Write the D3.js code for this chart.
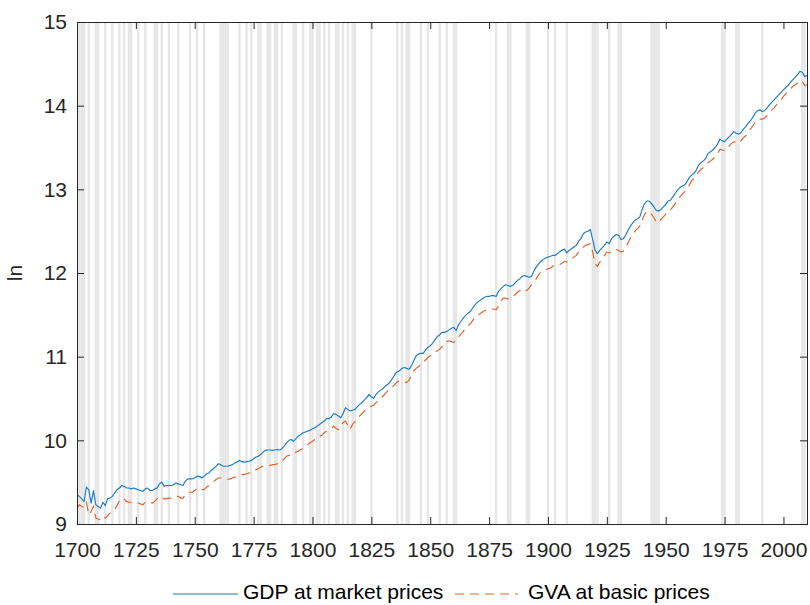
<!DOCTYPE html>
<html>
<head>
<meta charset="utf-8">
<script src="https://cdn.jsdelivr.net/npm/d3@7"></script>
<style>
  html, body { margin: 0; padding: 0; background: #fff; }
  svg { display: block; font-family: "Liberation Sans", Arial, Helvetica, sans-serif; }
  .axis text { font-size: 21px; fill: #262626; }
  .axis path, .axis line { stroke: #262626; stroke-width: 1; }
  .legend text { font-size: 21px; fill: #000; }
</style>
</head>
<body>
<div id="chart"></div>
<script>
/* UK output, 1700-2010, in logs, with recession years shaded. */

// ---- data --------------------------------------------------------------
const years = d3.range(1700, 2011);

const gdp = [
  9.35, 9.33, 9.30, 9.27, 9.44, 9.41, 9.25, 9.40, 9.23, 9.21,   // 1700
  9.19, 9.26, 9.22, 9.30, 9.31, 9.33, 9.37, 9.41, 9.43, 9.46,   // 1710
  9.45, 9.43, 9.43, 9.42, 9.43, 9.42, 9.41, 9.40, 9.39, 9.42,   // 1720
  9.43, 9.40, 9.40, 9.42, 9.43, 9.48, 9.50, 9.45, 9.46, 9.46,   // 1730
  9.46, 9.47, 9.49, 9.48, 9.47, 9.46, 9.51, 9.54, 9.54, 9.54,   // 1740
  9.55, 9.57, 9.57, 9.55, 9.57, 9.60, 9.61, 9.64, 9.66, 9.69,   // 1750
  9.72, 9.71, 9.69, 9.69, 9.69, 9.70, 9.71, 9.73, 9.74, 9.76,   // 1760
  9.745, 9.74, 9.745, 9.75, 9.76, 9.78, 9.80, 9.81, 9.83, 9.86, // 1770
  9.88, 9.885, 9.885, 9.88, 9.885, 9.89, 9.885, 9.90, 9.93, 9.97, // 1780
  10.00, 10.01, 9.99, 10.02, 10.05, 10.07, 10.09, 10.10, 10.11, 10.12, // 1790
  10.14, 10.15, 10.17, 10.19, 10.21, 10.23, 10.26, 10.26, 10.28, 10.32, // 1800
  10.31, 10.29, 10.27, 10.32, 10.39, 10.37, 10.35, 10.36, 10.37, 10.40, // 1810
  10.43, 10.45, 10.48, 10.51, 10.55, 10.52, 10.50, 10.55, 10.58, 10.60, // 1820
  10.62, 10.65, 10.67, 10.70, 10.74, 10.79, 10.82, 10.83, 10.86, 10.87, // 1830
  10.86, 10.85, 10.89, 10.95, 11.01, 11.03, 11.04, 11.04, 11.08, 11.11, // 1840
  11.13, 11.16, 11.20, 11.24, 11.26, 11.29, 11.29, 11.30, 11.32, 11.34, // 1850
  11.35, 11.31, 11.38, 11.42, 11.46, 11.49, 11.52, 11.54, 11.58, 11.62, // 1860
  11.65, 11.67, 11.69, 11.71, 11.72, 11.72, 11.73, 11.73, 11.72, 11.78, // 1870
  11.81, 11.84, 11.86, 11.85, 11.84, 11.85, 11.88, 11.91, 11.93, 11.96, // 1880
  11.97, 11.96, 11.95, 11.96, 12.02, 12.07, 12.11, 12.14, 12.16, 12.18, // 1890
  12.19, 12.20, 12.21, 12.21, 12.23, 12.255, 12.275, 12.285, 12.24, 12.27, // 1900
  12.29, 12.31, 12.33, 12.38, 12.41, 12.47, 12.49, 12.50, 12.52, 12.40, // 1910
  12.27, 12.23, 12.27, 12.30, 12.33, 12.37, 12.35, 12.41, 12.44, 12.46, // 1920
  12.45, 12.40, 12.41, 12.45, 12.51, 12.56, 12.60, 12.63, 12.65, 12.67, // 1930
  12.76, 12.83, 12.86, 12.86, 12.83, 12.79, 12.75, 12.74, 12.76, 12.79, // 1940
  12.82, 12.86, 12.87, 12.91, 12.95, 12.99, 13.02, 13.04, 13.05, 13.09, // 1950
  13.14, 13.17, 13.19, 13.23, 13.29, 13.32, 13.34, 13.37, 13.43, 13.45, // 1960
  13.47, 13.50, 13.54, 13.60, 13.58, 13.57, 13.60, 13.63, 13.66, 13.69, // 1970
  13.67, 13.66, 13.68, 13.72, 13.75, 13.79, 13.82, 13.86, 13.91, 13.94, // 1980
  13.95, 13.93, 13.94, 13.97, 14.01, 14.04, 14.07, 14.10, 14.13, 14.16, // 1990
  14.19, 14.22, 14.24, 14.28, 14.31, 14.34, 14.37, 14.41, 14.40, 14.35, // 2000
  14.36                                                                  // 2010
];

const gva = [
  9.19, 9.23, 9.21, 9.20, 9.26, 9.11, 9.15, 9.21, 9.07, 9.06,   // 1700
  9.05, 9.09, 9.07, 9.10, 9.13, 9.15, 9.18, 9.22, 9.28, 9.31,   // 1710
  9.30, 9.27, 9.26, 9.26, 9.26, 9.25, 9.25, 9.24, 9.23, 9.26,   // 1720
  9.27, 9.26, 9.25, 9.27, 9.30, 9.33, 9.32, 9.30, 9.30, 9.31,   // 1730
  9.31, 9.32, 9.33, 9.33, 9.31, 9.31, 9.35, 9.38, 9.38, 9.38,   // 1740
  9.40, 9.43, 9.42, 9.41, 9.41, 9.44, 9.46, 9.48, 9.51, 9.53,   // 1750
  9.55, 9.55, 9.545, 9.54, 9.535, 9.54, 9.55, 9.56, 9.57, 9.58, // 1760
  9.59, 9.59, 9.60, 9.61, 9.61, 9.63, 9.65, 9.66, 9.68, 9.69,   // 1770
  9.70, 9.70, 9.70, 9.71, 9.71, 9.72, 9.73, 9.75, 9.78, 9.81,   // 1780
  9.82, 9.82, 9.84, 9.86, 9.87, 9.89, 9.90, 9.92, 9.95, 9.97,   // 1790
  9.99, 10.01, 10.03, 10.05, 10.06, 10.09, 10.11, 10.13, 10.14, 10.17, // 1800
  10.14, 10.13, 10.18, 10.21, 10.23, 10.18, 10.13, 10.19, 10.22, 10.26, // 1810
  10.29, 10.32, 10.35, 10.37, 10.39, 10.41, 10.42, 10.45, 10.48, 10.50, // 1820
  10.53, 10.56, 10.59, 10.62, 10.64, 10.67, 10.70, 10.71, 10.70, 10.70, // 1830
  10.69, 10.72, 10.77, 10.83, 10.86, 10.88, 10.91, 10.93, 10.96, 10.99, // 1840
  11.01, 11.03, 11.05, 11.07, 11.09, 11.12, 11.15, 11.18, 11.19, 11.18, // 1850
  11.17, 11.19, 11.23, 11.27, 11.30, 11.34, 11.37, 11.39, 11.43, 11.47, // 1860
  11.50, 11.51, 11.53, 11.55, 11.56, 11.57, 11.57, 11.57, 11.56, 11.61, // 1870
  11.66, 11.70, 11.70, 11.69, 11.69, 11.71, 11.74, 11.77, 11.79, 11.81, // 1880
  11.80, 11.79, 11.82, 11.86, 11.89, 11.93, 11.98, 12.01, 12.03, 12.04, // 1890
  12.05, 12.06, 12.08, 12.09, 12.10, 12.10, 12.12, 12.14, 12.13, 12.15, // 1900
  12.17, 12.19, 12.21, 12.25, 12.27, 12.31, 12.33, 12.34, 12.35, 12.25, // 1910
  12.11, 12.08, 12.13, 12.17, 12.21, 12.25, 12.24, 12.26, 12.27, 12.28, // 1920
  12.27, 12.25, 12.26, 12.31, 12.36, 12.42, 12.46, 12.50, 12.53, 12.56, // 1930
  12.63, 12.70, 12.74, 12.73, 12.70, 12.66, 12.61, 12.60, 12.64, 12.67, // 1940
  12.70, 12.73, 12.75, 12.79, 12.83, 12.87, 12.91, 12.94, 12.97, 13.01, // 1950
  13.05, 13.10, 13.13, 13.16, 13.21, 13.24, 13.26, 13.29, 13.32, 13.34, // 1960
  13.36, 13.39, 13.42, 13.48, 13.47, 13.46, 13.49, 13.52, 13.55, 13.57, // 1970
  13.55, 13.55, 13.58, 13.62, 13.64, 13.68, 13.72, 13.76, 13.80, 13.83, // 1980
  13.84, 13.84, 13.85, 13.88, 13.92, 13.95, 13.97, 14.01, 14.04, 14.07, // 1990
  14.11, 14.14, 14.17, 14.20, 14.23, 14.25, 14.27, 14.30, 14.29, 14.24, // 2000
  14.25                                                                  // 2010
];

// shaded years (recessions)
const recessionYears = [
  1701, 1702, 1703, 1705, 1708, 1709, 1712, 1715, 1718, 1720, 1722, 1723,
  1726, 1729, 1733, 1734, 1736, 1739, 1743, 1748, 1751, 1754,
  1761, 1762, 1763, 1764, 1769, 1772, 1774, 1777, 1778, 1781, 1782, 1784,
  1785, 1787, 1792, 1793, 1796, 1799, 1800, 1802, 1803, 1805, 1807,
  1810, 1811, 1813, 1815, 1817, 1818, 1825, 1836, 1838, 1840, 1841, 1846,
  1849, 1854, 1857, 1860, 1861, 1878, 1883, 1884, 1891, 1892, 1900, 1903,
  1908, 1919, 1920, 1921, 1926, 1930, 1931, 1944, 1945, 1946, 1947,
  1974, 1975, 1980, 1981, 1991, 2008, 2009
];

const xTicks = d3.range(1700, 2001, 25);
const yTicks = [9, 10, 11, 12, 13, 14, 15];
const seriesNames = ["GDP at market prices", "GVA at basic prices"];

// ---- layout --------------------------------------------------------------
const W = 810, H = 605;
const plot = { left: 77, right: 807, top: 22, bottom: 524 };
const blue = "#1a7cc6", orange = "#e0622a";
const lw = 1.15;

const svg = d3.select("#chart").append("svg")
  .attr("width", W).attr("height", H);

const x = d3.scaleLinear().domain([1700, 2010]).range([plot.left, plot.right]);
const y = d3.scaleLinear().domain([9, 15]).range([plot.bottom, plot.top]);

svg.append("clipPath").attr("id", "clip")
  .append("rect")
  .attr("x", plot.left).attr("y", plot.top)
  .attr("width", plot.right - plot.left).attr("height", plot.bottom - plot.top);

const gPlot = svg.append("g").attr("clip-path", "url(#clip)");

// grey bands, one year wide, centred on the year
gPlot.append("g").selectAll("rect")
  .data(recessionYears)
  .join("rect")
  .attr("x", d => x(d - 0.5))
  .attr("width", d => x(d + 0.5) - x(d - 0.5))
  .attr("y", plot.top)
  .attr("height", plot.bottom - plot.top)
  .attr("fill", "#e6e6e6");

const line = d3.line()
  .x((d, i) => x(years[i]))
  .y(d => y(d));

gPlot.append("path")
  .datum(gva)
  .attr("d", line)
  .attr("fill", "none")
  .attr("stroke", orange)
  .attr("stroke-width", lw)
  .attr("stroke-dasharray", "9,6");

gPlot.append("path")
  .datum(gdp)
  .attr("d", line)
  .attr("fill", "none")
  .attr("stroke", blue)
  .attr("stroke-width", lw)
  .attr("stroke-linejoin", "round");

// ---- axes (box with inward ticks on all four sides) ---------------------
svg.append("g").attr("class", "axis")
  .attr("transform", `translate(0,${plot.bottom})`)
  .call(d3.axisBottom(x).tickValues(xTicks).tickFormat(d3.format("d"))
    .tickSizeInner(-7).tickSizeOuter(0).tickPadding(18));

svg.append("g").attr("class", "axis")
  .attr("transform", `translate(0,${plot.top})`)
  .call(d3.axisTop(x).tickValues(xTicks).tickFormat("")
    .tickSizeInner(-7).tickSizeOuter(0));

svg.append("g").attr("class", "axis")
  .attr("transform", `translate(${plot.left},0)`)
  .call(d3.axisLeft(y).tickValues(yTicks).tickFormat(d3.format("d"))
    .tickSizeInner(-7).tickSizeOuter(0).tickPadding(10));

svg.append("g").attr("class", "axis")
  .attr("transform", `translate(${plot.right},0)`)
  .call(d3.axisRight(y).tickValues(yTicks).tickFormat("")
    .tickSizeInner(-7).tickSizeOuter(0));

svg.selectAll(".axis .domain").attr("stroke-linecap", "square");

// y label
svg.append("text")
  .attr("transform", `translate(22,${(plot.top + plot.bottom) / 2}) rotate(-90)`)
  .attr("text-anchor", "middle")
  .style("font-size", "21px")
  .attr("fill", "#262626")
  .text("ln");

// ---- legend ------------------------------------------------------------
const legend = svg.append("g").attr("class", "legend");
const legendItems = [
  { name: seriesNames[0], color: blue, dash: null, x0: 173, x1: 238, tx: 243 },
  { name: seriesNames[1], color: orange, dash: "9,6", x0: 455, x1: 518, tx: 528 }
];
const ly = 594;
legendItems.forEach(it => {
  legend.append("line")
    .attr("x1", it.x0).attr("x2", it.x1)
    .attr("y1", ly).attr("y2", ly)
    .attr("stroke", it.color)
    .attr("stroke-width", lw)
    .attr("stroke-dasharray", it.dash);
  legend.append("text")
    .attr("x", it.tx).attr("y", 599)
    .text(it.name);
});
</script>
</body>
</html>
